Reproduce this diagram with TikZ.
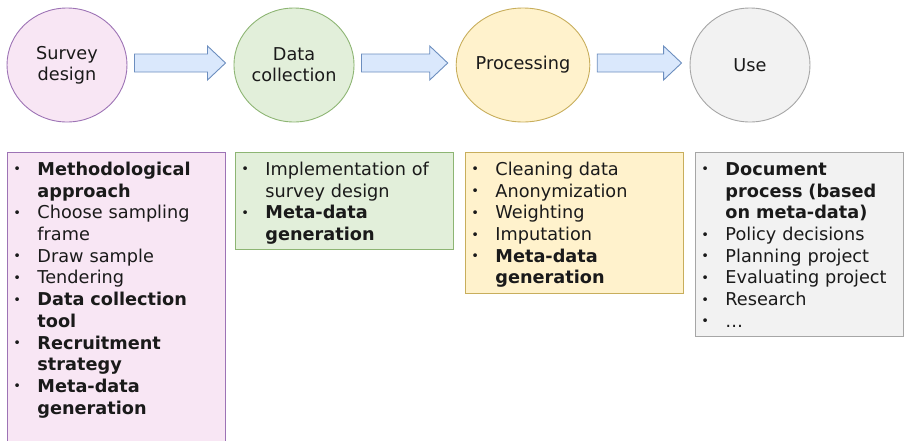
\documentclass[tikz,border=0pt]{standalone}
\usepackage{fontspec}
\setmainfont{DejaVu Sans}
\usetikzlibrary{shapes.geometric,calc}

\definecolor{pinkfill}{HTML}{F8E6F4}
\definecolor{pinkline}{HTML}{9D73B5}
\definecolor{greenfill}{HTML}{E2EFDA}
\definecolor{greenline}{HTML}{8DB573}
\definecolor{yellowfill}{HTML}{FFF2CC}
\definecolor{yellowline}{HTML}{C8AE5C}
\definecolor{grayfill}{HTML}{F2F2F2}
\definecolor{grayline}{HTML}{A6A6A6}
\definecolor{arrowfill}{HTML}{DAE8FC}
\definecolor{arrowline}{HTML}{6C8EBF}
\definecolor{txt}{HTML}{1A1A1A}

% bullet item with hanging indent
\newcommand\bulsym{\raisebox{1.5pt}{\fontsize{13}{13}\selectfont\textbullet}}
\newcommand\itm[1]{\par\hangindent=30pt\hangafter=1\noindent\makebox[30pt][l]{\hspace*{6pt}\bulsym}#1\par}
\newcommand\topgap{\rule{0pt}{22pt}}
\newcommand\botgap{\rule[-9pt]{0pt}{9pt}}

% block arrow from one stage to the next
\newcommand\stagearrow[2]{%
  \draw[blockarr]
    ($(#1.east)+(7,-11)$) -- ($(#2.west)+(-26,-11)$) -- ($(#2.west)+(-26,-19)$)
    -- ($(#2.west)+(-8,-2)$)
    -- ($(#2.west)+(-26,15)$) -- ($(#2.west)+(-26,7)$) -- ($(#1.east)+(7,7)$) -- cycle;}

\begin{document}
\begin{tikzpicture}[x=1pt,y=-1pt,
  stage/.style={ellipse, draw, line width=0.9pt, minimum width=120pt, minimum height=114pt,
    inner sep=0pt, align=center, text=txt, font=\fontsize{17.7}{20.7}\selectfont},
  infobox/.style={draw, line width=0.9pt, anchor=north west, inner xsep=0pt, inner ysep=0pt,
    align=left, text=txt, font=\fontsize{17.7}{21.7}\selectfont},
  blockarr/.style={fill=arrowfill, draw=arrowline, line width=0.9pt, line join=miter}]
\useasboundingbox (0,0) rectangle (904,440);

% stages
\node[stage, fill=pinkfill, draw=pinkline] (sd) at (67,65) {Survey\\design};
\node[stage, fill=greenfill, draw=greenline] (dc) at (294,65) {Data\\collection};
\node[stage, fill=yellowfill, draw=yellowline] (pr) at (523,65) {Processing};
\node[stage, fill=grayfill, draw=grayline] (us) at (750,65) {Use};

\stagearrow{sd}{dc}
\stagearrow{dc}{pr}
\stagearrow{pr}{us}

% details per stage
\node[infobox, fill=pinkfill, draw=pinkline, text width=218pt] (bsd) at (7,152) {%
  \itm{\topgap\textbf{Methodological}\newline\textbf{approach}}
  \itm{Choose sampling\newline frame}
  \itm{Draw sample}
  \itm{Tendering}
  \itm{\textbf{Data collection}\newline\textbf{tool}}
  \itm{\textbf{Recruitment}\newline\textbf{strategy}}
  \itm{\textbf{Meta-data}\newline\textbf{generation}}
  \rule{0pt}{60pt}\par};

\node[infobox, fill=greenfill, draw=greenline, text width=218pt] (bdc) at (235,152) {%
  \itm{\topgap Implementation of\newline survey design}
  \itm{\textbf{Meta-data}\newline\textbf{generation}\botgap}};

\node[infobox, fill=yellowfill, draw=yellowline, text width=218pt] (bpr) at (465,152) {%
  \itm{\topgap Cleaning data}
  \itm{Anonymization}
  \itm{Weighting}
  \itm{Imputation}
  \itm{\textbf{Meta-data}\newline\textbf{generation}\botgap}};

\node[infobox, fill=grayfill, draw=grayline, text width=208pt] (bus) at (695,152) {%
  \itm{\topgap\textbf{Document}\newline\textbf{process (based}\newline\textbf{on meta-data)}}
  \itm{Policy decisions}
  \itm{Planning project}
  \itm{Evaluating project}
  \itm{Research}
  \itm{…\botgap}};
\end{tikzpicture}
\end{document}
